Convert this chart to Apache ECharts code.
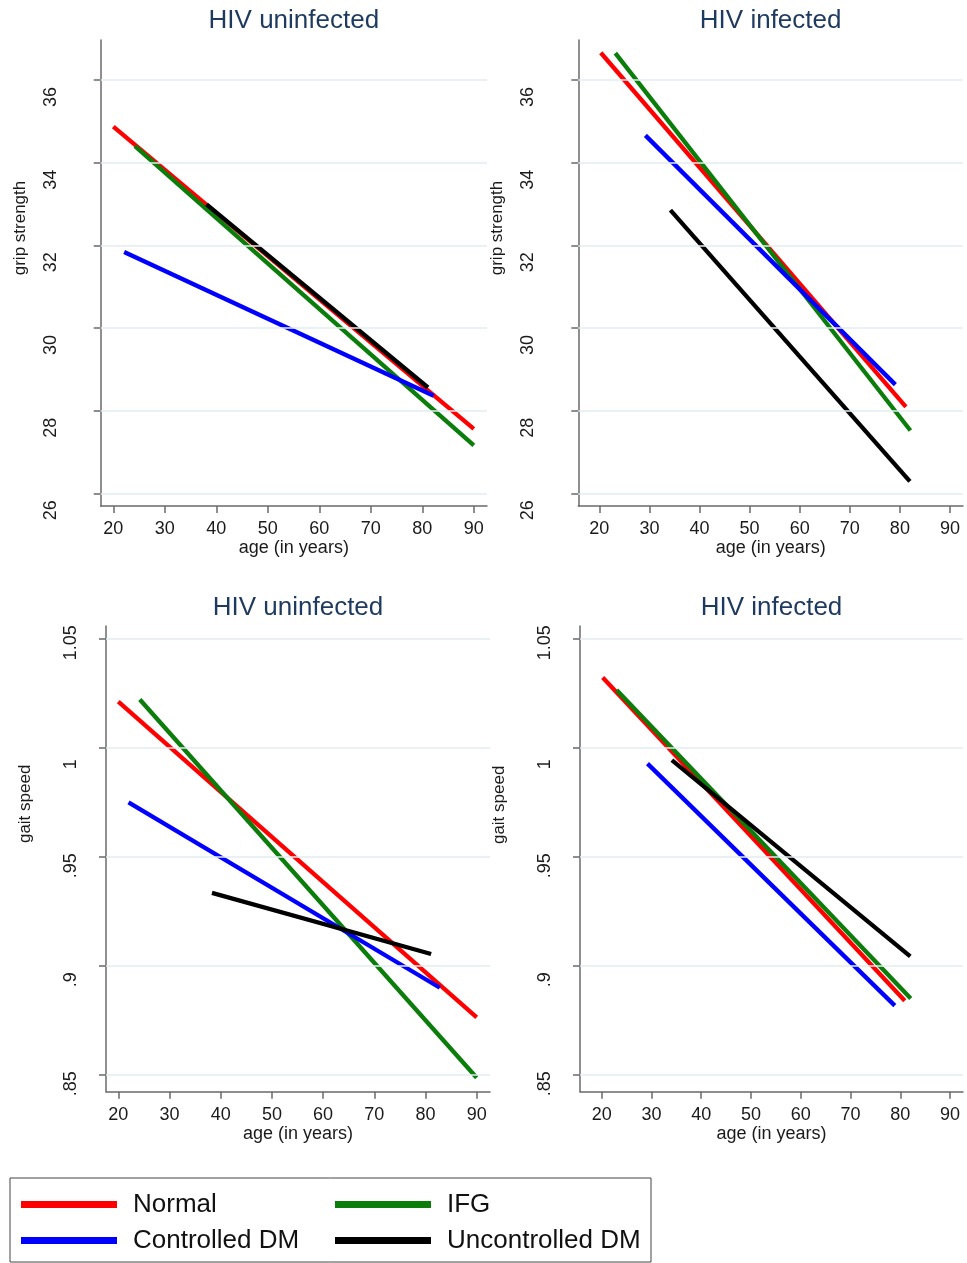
<!DOCTYPE html>
<html><head><meta charset="utf-8">
<script src="https://cdn.jsdelivr.net/npm/echarts@6/dist/echarts.min.js"></script>
<style>html,body{margin:0;padding:0;background:#fff}#c{width:967px;height:1263px}</style>
</head><body><div id="c"></div>
<script>
// ---------- data ----------
const groups = ['Normal', 'IFG', 'Controlled DM', 'Uncontrolled DM'];
const groupColors = ['#ff0000', '#0a7d0a', '#0000ff', '#000000'];
const ageTicks = [20, 30, 40, 50, 60, 70, 80, 90];
const gripTicks = [26, 28, 30, 32, 34, 36];
const gaitTicks = [0.85, 0.9, 0.95, 1, 1.05];
const panelTitles = ['HIV uninfected', 'HIV infected', 'HIV uninfected', 'HIV infected'];
const yNames = ['grip strength', 'grip strength', 'gait speed', 'gait speed'];
const xName = 'age (in years)';
// each group: [[age start, value start], [age end, value end]]
const gripUninfected = [
  [[20, 34.87], [90, 27.56]],
  [[24.2, 34.40], [90, 27.16]],
  [[22.1, 31.84], [82.2, 28.36]],
  [[38.1, 32.99], [81.1, 28.56]]
];
const gripInfected = [
  [[20.3, 36.66], [81.2, 28.09]],
  [[23.2, 36.65], [82.1, 27.52]],
  [[29.2, 34.66], [79.1, 28.63]],
  [[34.2, 32.85], [82.0, 26.29]]
];
const gaitUninfected = [
  [[20, 1.0209], [90, 0.8761]],
  [[24.2, 1.0219], [90, 0.8484]],
  [[22.0, 0.9747], [82.8, 0.8897]],
  [[38.3, 0.9332], [81.1, 0.9052]]
];
const gaitInfected = [
  [[20.2, 1.0320], [80.9, 0.8837]],
  [[23.0, 1.0263], [82.1, 0.8848]],
  [[29.2, 0.9925], [78.9, 0.8815]],
  [[34.1, 0.9941], [82.0, 0.9041]]
];
const panelData = [gripUninfected, gripInfected, gaitUninfected, gaitInfected];
const panelTicks = [gripTicks, gripTicks, gaitTicks, gaitTicks];

// ---------- layout ----------
const layout = [
  {left: 100.7, top: 40, width: 386.3, height: 466, xmin: 17.55, xmax: 92.56, ymin: 25.693, ymax: 36.968, labMargin: 50, nameShift: 90, titleTop: 8},
  {left: 578.3, top: 40, width: 384.7, height: 466, xmin: 15.81, xmax: 92.6, ymin: 25.693, ymax: 36.968, labMargin: 50, nameShift: 90, titleTop: 8},
  {left: 106, top: 626, width: 384, height: 465.7, xmin: 17.6, xmax: 92.6, ymin: 0.84202, ymax: 1.05564, labMargin: 35, nameShift: 110, titleTop: 595},
  {left: 580, top: 626, width: 383, height: 465.7, xmin: 15.64, xmax: 92.6, ymin: 0.84202, ymax: 1.05564, labMargin: 35, nameShift: 108, titleTop: 595}
];
const titleColor = '#1e3a5f';
const axisColor = '#6a6a6a';
const gridColor = '#e2edf2';
const textColor = '#1a1a1a';
const FONT = 'Liberation Sans, Arial, sans-serif';

const grids = [], xAxes = [], yAxes = [], series = [], titles = [];
layout.forEach((L, i) => {
  grids.push({left: L.left, top: L.top, width: L.width, height: L.height, containLabel: false, outerBoundsMode: 'none'});
  titles.push({
    text: panelTitles[i], left: L.left + L.width / 2, top: L.titleTop, textAlign: 'center', padding: 0,
    textStyle: {fontFamily: FONT, fontSize: 26, fontWeight: 'normal', color: titleColor}
  });
  xAxes.push({
    type: 'value', gridIndex: i, min: L.xmin, max: L.xmax,
    name: xName, nameLocation: 'middle', nameGap: 31,
    nameTextStyle: {fontFamily: FONT, fontSize: 18, color: textColor},
    axisLine: {show: true, onZero: false, lineStyle: {color: axisColor, width: 1.5}},
    axisTick: {show: true, length: 7, customValues: ageTicks, lineStyle: {color: axisColor, width: 1.5}},
    axisLabel: {customValues: ageTicks, margin: 14, fontFamily: FONT, fontSize: 18, color: textColor},
    splitLine: {show: false}
  });
  const isGait = i >= 2;
  const yLabel = isGait ? {
      customValues: panelTicks[i], rotate: 90, margin: L.labMargin,
      align: 'center', verticalAlign: 'middle', width: 44,
      fontFamily: FONT, fontSize: 18, color: textColor,
      formatter: v => '{a|' + String(v).replace(/^0\./, '.') + '}',
      rich: {a: {align: 'left', fontFamily: FONT, fontSize: 18, color: textColor}}
    } : {
      customValues: panelTicks[i], rotate: 90, margin: L.labMargin,
      align: 'center', verticalAlign: 'middle', padding: [0, 34, 0, 0],
      fontFamily: FONT, fontSize: 18, color: textColor
    };
  yAxes.push({
    type: 'value', gridIndex: i, min: L.ymin, max: L.ymax,
    name: yNames[i], nameLocation: 'middle', nameGap: 72, nameRotate: 90,
    nameTextStyle: {fontFamily: FONT, fontSize: 17, color: textColor, align: 'center', verticalAlign: 'bottom', padding: [0, 0, 0, L.nameShift]},
    axisLine: {show: true, onZero: false, lineStyle: {color: axisColor, width: 1.5}},
    axisTick: {show: true, length: 7, customValues: panelTicks[i], lineStyle: {color: axisColor, width: 1.5}},
    axisLabel: yLabel,
    splitLine: {show: false}
  });
  // grid lines at tick values
  series.push({
    type: 'line', name: 'grid' + i, xAxisIndex: i, yAxisIndex: i, data: [], z: 1, silent: true,
    markLine: {
      silent: true, symbol: 'none', label: {show: false},
      lineStyle: {color: gridColor, width: 1.5, type: 'solid'},
      emphasis: {disabled: true},
      data: panelTicks[i].map(v => ({yAxis: v}))
    }
  });
  panelData[i].forEach((pts, g) => {
    series.push({
      type: 'line', name: groups[g], xAxisIndex: i, yAxisIndex: i, data: pts,
      showSymbol: false, symbol: 'none', z: 3, silent: true,
      color: groupColors[g],
      lineStyle: {color: groupColors[g], width: 4.3},
      itemStyle: {color: groupColors[g]}
    });
  });
});

const chart = echarts.init(document.getElementById('c'), null, {renderer: 'canvas'});
chart.setOption({
  backgroundColor: '#ffffff',
  animation: false,
  title: titles,
  grid: grids,
  xAxis: xAxes,
  yAxis: yAxes,
  legend: {
    data: groups, left: 10, top: 1178, width: 630, orient: 'horizontal',
    padding: [12, 9, 7, 11], itemGap: 7, itemWidth: 96, itemHeight: 7, icon: 'rect',
    borderColor: '#444', borderWidth: 1, borderRadius: 0,
    selectedMode: false,
    textStyle: {fontFamily: FONT, fontSize: 26, color: '#111', width: 195, overflow: 'none', lineHeight: 29, padding: [0, 0, 0, 11]}
  },
  series: series
});
</script>
</body></html>
